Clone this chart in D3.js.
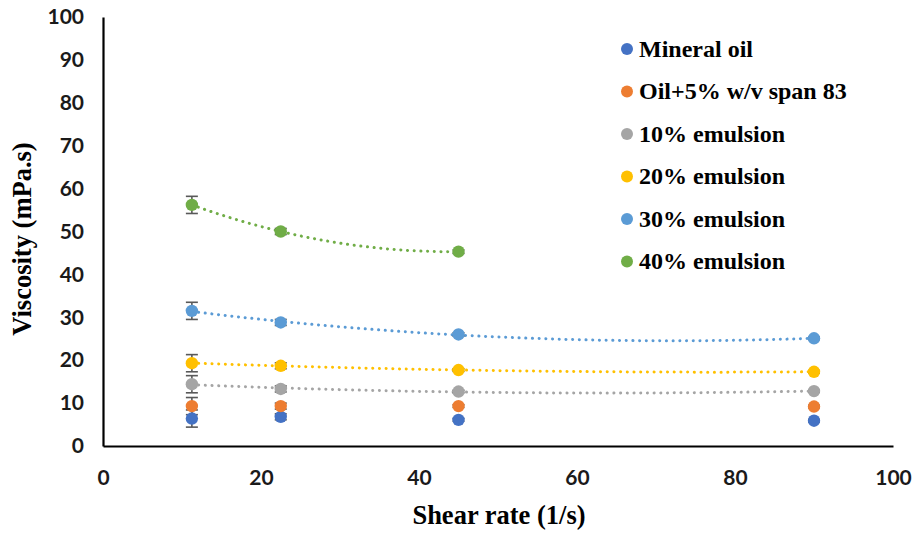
<!DOCTYPE html>
<html>
<head>
<meta charset="utf-8">
<script src="https://cdn.jsdelivr.net/npm/d3@7"></script>
<style>
  html, body { margin: 0; padding: 0; background: #fff; }
  svg { display: block; }
</style>
</head>
<body>
<svg id="chart" width="920" height="533"></svg>
<script>
// Shear rates (1/s) at which viscosity was measured
const shearRates = [11.25, 22.5, 45, 90];

const seriesNames = [
  "Mineral oil",
  "Oil+5% w/v span 83",
  "10% emulsion",
  "20% emulsion",
  "30% emulsion",
  "40% emulsion"
];
const seriesColors = ["#4472C4", "#ED7D31", "#A5A5A5", "#FFC000", "#5B9BD5", "#70AD47"];

// Viscosity (mPa.s); null where no measurement was taken
const mineralOil   = [6.4, 6.8, 6.1, 5.9];
const oilSpan83    = [9.3, 9.3, 9.3, 9.2];
const emulsion10   = [14.4, 13.3, 12.7, 12.8];
const emulsion20   = [19.3, 18.7, 17.7, 17.3];
const emulsion30   = [31.5, 28.8, 26.0, 25.1];
const emulsion40   = [56.2, 50.0, 45.3, null];

// Standard deviations for the error bars
const mineralOilErr = [2.0, 0.7, 0.3, 0.3];
const oilSpan83Err  = [2.0, 0.7, 0.3, 0.3];
const emulsion10Err = [2.0, 0.7, 0.3, 0.3];
const emulsion20Err = [2.0, 0.7, 0.3, 0.3];
const emulsion30Err = [2.0, 0.7, 0.4, 0.3];
const emulsion40Err = [2.0, 0.7, 0.4, 0.3];

// Which series carry a 2nd-order polynomial trendline
const hasTrend = [false, false, true, true, true, true];

const xTicks = [0, 20, 40, 60, 80, 100];
const yTicks = [0, 10, 20, 30, 40, 50, 60, 70, 80, 90, 100];

const values = [mineralOil, oilSpan83, emulsion10, emulsion20, emulsion30, emulsion40];
const errors = [mineralOilErr, oilSpan83Err, emulsion10Err, emulsion20Err, emulsion30Err, emulsion40Err];

const series = seriesNames.map((name, i) => ({
  name,
  color: seriesColors[i],
  trend: hasTrend[i],
  points: shearRates.map((x, j) => ({ x, y: values[i][j], e: errors[i][j] }))
                    .filter(p => p.y !== null)
}));

const svg = d3.select("#chart");
const margin = { left: 103, right: 27, top: 17, bottom: 87 };
const W = 920, H = 533;

const x = d3.scaleLinear().domain([0, 100]).range([margin.left, W - margin.right]);
const y = d3.scaleLinear().domain([0, 100]).range([H - margin.bottom, margin.top]);

const tickFont = "Lato, 'Open Sans', sans-serif";
const titleFont = "'Liberation Serif', 'Times New Roman', serif";

// Axes: plain black lines, labels only
const xAxis = d3.axisBottom(x).tickValues(xTicks).tickSize(0).tickPadding(24);
const yAxis = d3.axisLeft(y).tickValues(yTicks).tickSize(0).tickPadding(19);

const gx = svg.append("g").attr("transform", `translate(0,${y(0)})`).call(xAxis);
const gy = svg.append("g").attr("transform", `translate(${x(0)},0)`).call(yAxis);

[gx, gy].forEach(g => {
  g.select(".domain").attr("stroke", "#000").attr("stroke-width", 2.2);
  g.selectAll("text")
    .attr("font-family", tickFont)
    .attr("font-weight", 700)
    .attr("font-size", 21)
    .attr("fill", "#1a1a1a");
});

// Least-squares quadratic fit for the trendlines
function quadFit(pts) {
  let s = [0, 0, 0, 0, 0], t = [0, 0, 0];
  pts.forEach(p => {
    const x1 = p.x, x2 = x1 * x1;
    s[0] += 1; s[1] += x1; s[2] += x2; s[3] += x2 * x1; s[4] += x2 * x2;
    t[0] += p.y; t[1] += x1 * p.y; t[2] += x2 * p.y;
  });
  const A = [[s[0], s[1], s[2]], [s[1], s[2], s[3]], [s[2], s[3], s[4]]];
  const det = m => m[0][0] * (m[1][1] * m[2][2] - m[1][2] * m[2][1])
                 - m[0][1] * (m[1][0] * m[2][2] - m[1][2] * m[2][0])
                 + m[0][2] * (m[1][0] * m[2][1] - m[1][1] * m[2][0]);
  const D = det(A);
  const coef = [0, 1, 2].map(k => {
    const M = A.map((row, r) => row.map((v, c) => (c === k ? t[r] : v)));
    return det(M) / D;
  });
  return xv => coef[0] + coef[1] * xv + coef[2] * xv * xv;
}

const line = d3.line().x(d => x(d[0])).y(d => y(d[1]));

const trendLayer = svg.append("g");
series.filter(s => s.trend).forEach(s => {
  const f = quadFit(s.points);
  const x0 = s.points[0].x, x1 = s.points[s.points.length - 1].x;
  const samples = d3.range(0, 101).map(k => {
    const xv = x0 + (x1 - x0) * k / 100;
    return [xv, f(xv)];
  });
  trendLayer.append("path")
    .attr("d", line(samples))
    .attr("fill", "none")
    .attr("stroke", s.color)
    .attr("stroke-width", 3)
    .attr("stroke-linecap", "round")
    .attr("stroke-dasharray", "0.1 6.6");
});

// Error bars
const errLayer = svg.append("g").attr("stroke", "#595959").attr("stroke-width", 1.6);
series.forEach(s => {
  s.points.forEach(p => {
    const top = y(p.y + p.e), bot = y(p.y - p.e), cx = x(p.x);
    errLayer.append("line").attr("x1", cx).attr("x2", cx).attr("y1", top).attr("y2", bot);
    errLayer.append("line").attr("x1", cx - 6).attr("x2", cx + 6).attr("y1", top).attr("y2", top);
    errLayer.append("line").attr("x1", cx - 6).attr("x2", cx + 6).attr("y1", bot).attr("y2", bot);
  });
});

// Markers
const markLayer = svg.append("g");
series.forEach(s => {
  markLayer.selectAll(null)
    .data(s.points)
    .enter().append("circle")
    .attr("cx", d => x(d.x))
    .attr("cy", d => y(d.y))
    .attr("r", 6.2)
    .attr("fill", s.color);
});

// Legend
const legend = svg.append("g").attr("transform", "translate(627,49)");
series.forEach((s, i) => {
  const row = legend.append("g").attr("transform", `translate(0,${i * 42.5})`);
  row.append("circle").attr("r", 6).attr("fill", s.color);
  row.append("text")
    .attr("x", 12)
    .attr("dy", "0.33em")
    .attr("font-family", titleFont)
    .attr("font-weight", 700)
    .attr("font-size", 24)
    .attr("fill", "#000")
    .text(s.name);
});

// Axis titles
svg.append("text")
  .attr("x", 499)
  .attr("y", 524)
  .attr("text-anchor", "middle")
  .attr("font-family", titleFont)
  .attr("font-weight", 700)
  .attr("font-size", 26.5)
  .attr("fill", "#000")
  .text("Shear rate (1/s)");

svg.append("text")
  .attr("transform", `translate(31,239) rotate(-90)`)
  .attr("text-anchor", "middle")
  .attr("font-family", titleFont)
  .attr("font-weight", 700)
  .attr("font-size", 26.5)
  .attr("fill", "#000")
  .text("Viscosity (mPa.s)");
</script>
</body>
</html>
